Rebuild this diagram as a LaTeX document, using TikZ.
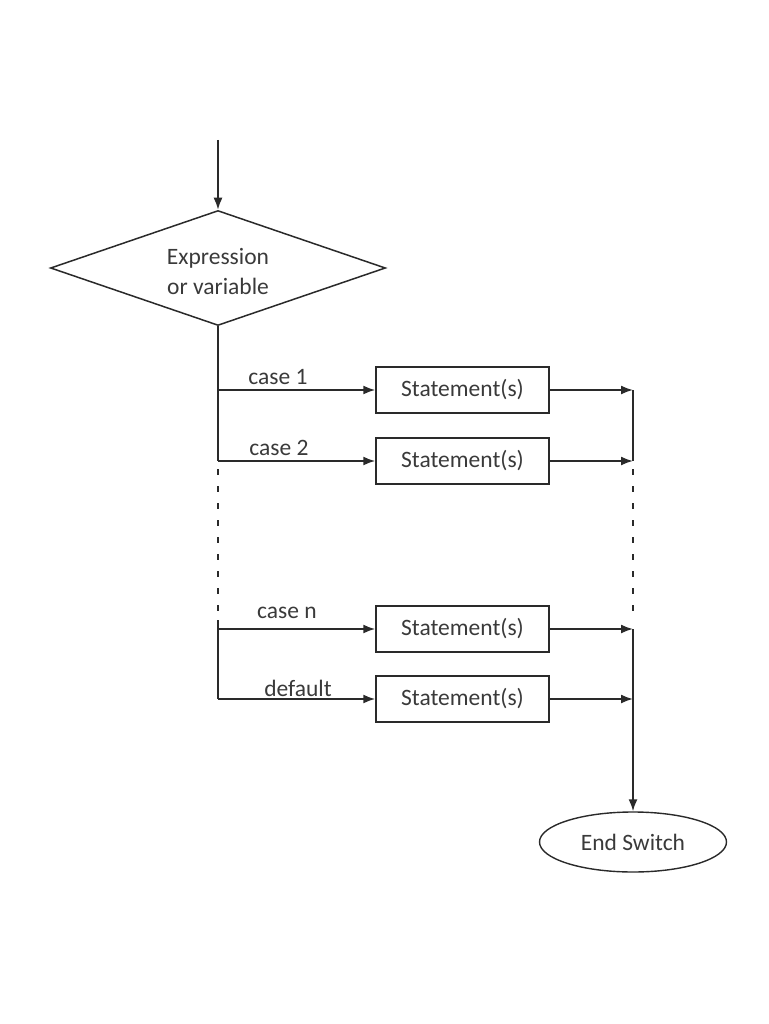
\documentclass[tikz,border=0pt]{standalone}
\usepackage{fontspec}
\setmainfont{Carlito}
\usetikzlibrary{shapes.geometric,arrows.meta}
\definecolor{linec}{HTML}{2A2A2A}
\definecolor{textc}{HTML}{3A3A3A}
\begin{document}
\begin{tikzpicture}[x=1pt,y=-1pt,
  every node/.style={font=\fontsize{23.5}{30}\selectfont, text=textc},
  conn/.style={draw=linec, line width=1.7pt},
  arr/.style={conn, -{Latex[length=12pt,width=9pt]}},
  dashconn/.style={draw=linec, line width=1.8pt, dash pattern=on 6pt off 11pt},
  stmt/.style={draw=linec, line width=1.5pt, minimum width=173pt, minimum height=46pt, inner sep=0pt},
  decision/.style={diamond, draw=linec, line width=1.5pt, aspect=2.9, minimum width=335pt, minimum height=115pt, inner sep=0pt, align=center},
  terminal/.style={ellipse, draw=linec, line width=1.4pt, minimum width=187pt, minimum height=60pt, inner sep=0pt},
  lab/.style={font=\fontsize{23.5}{26}\selectfont, inner sep=0pt}
]
\useasboundingbox (0,0) rectangle (768,1024);

\coordinate (start) at (218,140);
\node[decision] (d) at (218,268) {\raisebox{-10pt}[0pt][0pt]{\parbox{150pt}{\centering Expression\\or variable}}};

\node[stmt] (s1) at (462.5,390) {Statement(s)};
\node[stmt] (s2) at (462.5,461) {Statement(s)};
\node[stmt] (sn) at (462.5,629) {Statement(s)};
\node[stmt] (sd) at (462.5,699) {Statement(s)};

\node[terminal] (end) at (633,842) {End Switch};

\coordinate (l1) at (218,390);
\coordinate (l2) at (218,461);
\coordinate (ldash) at (218,620);
\coordinate (ln) at (218,629);
\coordinate (ld) at (218,699);

\coordinate (r1) at (633,390);
\coordinate (r2) at (633,461);
\coordinate (rdash) at (633,620);
\coordinate (rn) at (633,629);
\coordinate (rd) at (633,699);

% entry
\draw[arr] (start) -- (d.north);

% left trunk
\draw[conn] (d.south) -- (l2);
\draw[dashconn] (l2) ++(0,8) -- (ldash);
\draw[conn] (ldash) -- (ld);

% case arrows
\draw[arr] (l1) -- (s1.west);
\draw[arr] (l2) -- (s2.west);
\draw[arr] (ln) -- (sn.west);
\draw[arr] (ld) -- (sd.west);

% labels
\node[lab] (c1) at (278,377) {case 1};
\node[lab] (c2) at (279,448) {case 2};
\node[lab] (cn) at (287,613) {case n};
\node[lab] (cd) at (298,688) {default};

% outputs
\draw[arr] (s1.east) -- (r1);
\draw[arr] (s2.east) -- (r2);
\draw[arr] (sn.east) -- (rn);
\draw[arr] (sd.east) -- (rd);

% right trunk
\draw[conn] (r1) -- (r2);
\draw[dashconn] (r2) ++(0,8) -- (rdash);
\draw[arr] (rn) -- (end.north);
\end{tikzpicture}
\end{document}
